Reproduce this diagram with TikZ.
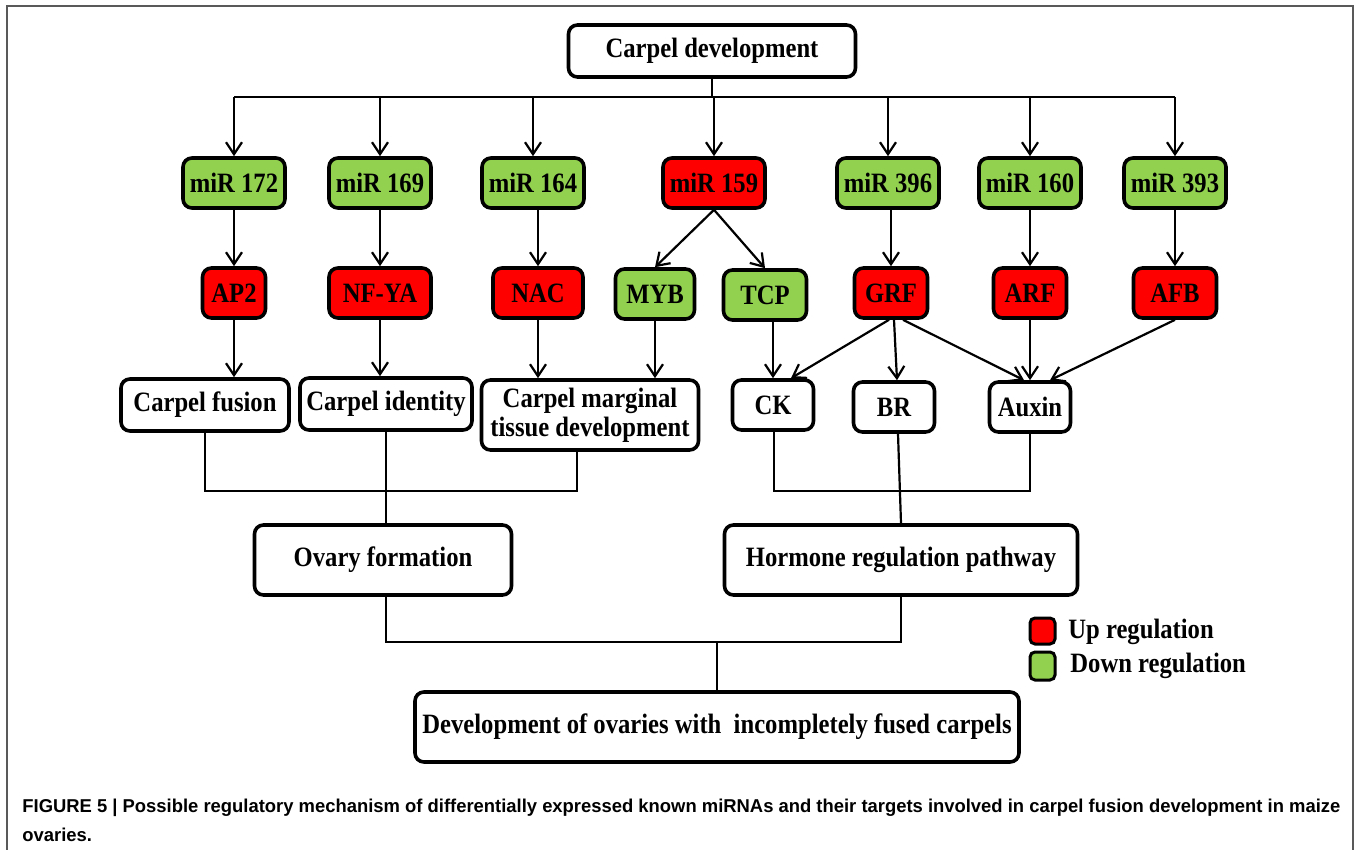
\documentclass[tikz,border=0pt]{standalone}
\usepackage{fontspec}
\setmainfont{Liberation Serif}[FakeStretch=0.88]
\newfontfamily\capfont{Liberation Sans}[FakeStretch=0.99]
\usetikzlibrary{arrows.meta}
\definecolor{upred}{HTML}{FF0000}
\definecolor{downgreen}{HTML}{92D050}
\tikzset{
  box/.style={draw=black, line width=1.8pt, rounded corners=4.5pt, align=center,
    font=\fontsize{14}{14.5}\selectfont\bfseries, inner sep=1pt},
  up/.style={box, fill=upred},
  down/.style={box, fill=downgreen},
  wbox/.style={box, fill=white},
  arr/.style={line width=1.1pt, -{Straight Barb[length=6pt,width=8pt,line width=1.1pt]}},
  ln/.style={line width=1.1pt},
  legtext/.style={anchor=west, font=\fontsize{14}{14.5}\selectfont\bfseries, inner sep=0pt},
  captext/.style={anchor=west, inner sep=0pt, font=\capfont\fontsize{9.3}{10}\selectfont\bfseries}
}
\begin{document}
\begin{tikzpicture}[x=0.5pt,y=-0.5pt]
\useasboundingbox (0,0) rectangle (1360,850);
\draw[gray!70!black, line width=0.8pt] (7,850) -- (7,6) -- (1353,6) -- (1353,850);
% top
\node[wbox, minimum width=143.5pt, minimum height=26pt] (top) at (712,51) {Carpel development};
\coordinate (bus) at (0,97);
% miRNAs
\foreach \n/\x/\t/\s in {m172/234/miR 172/down, m169/380/miR 169/down, m164/533/miR 164/down, m159/714/miR 159/up, m396/888/miR 396/down, m160/1030/miR 160/down, m393/1175/miR 393/down}{
  \node[\s, minimum width=51pt, minimum height=25pt] (\n) at (\x,183) {\t};
}
% targets
\node[up, minimum width=31.5pt, minimum height=25pt] (ap2) at (234,293) {AP2};
\node[up, minimum width=51pt, minimum height=25pt] (nfya) at (380,293) {NF-YA};
\node[up, minimum width=45pt, minimum height=25pt] (nac) at (538,293) {NAC};
\node[down, minimum width=39.5pt, minimum height=25pt] (myb) at (655,294) {MYB};
\node[down, minimum width=41.5pt, minimum height=25pt] (tcp) at (765,295) {TCP};
\node[up, minimum width=36.5pt, minimum height=25pt] (grf) at (891,293) {GRF};
\node[up, minimum width=36.5pt, minimum height=25pt] (arf) at (1030,293) {ARF};
\node[up, minimum width=41.5pt, minimum height=25pt] (afb) at (1175,293) {AFB};
% third row
\node[wbox, minimum width=84pt, minimum height=26pt] (cf) at (205,405) {Carpel fusion};
\node[wbox, minimum width=86pt, minimum height=26pt] (ci) at (386,404) {Carpel identity};
\node[wbox, minimum width=108.5pt, minimum height=35pt] (cm) at (590,415) {Carpel marginal\\tissue development};
\node[wbox, minimum width=40.5pt, minimum height=25pt] (ck) at (773,405) {CK};
\node[wbox, minimum width=40.5pt, minimum height=25pt] (br) at (894,407) {BR};
\node[wbox, minimum width=40.5pt, minimum height=25pt] (aux) at (1030,407) {Auxin};
% fourth row
\node[wbox, minimum width=128.5pt, minimum height=35pt] (ov) at (383,560) {Ovary formation};
\node[wbox, minimum width=176.5pt, minimum height=35pt] (hr) at (901,560) {Hormone regulation pathway};
% final
\node[wbox, minimum width=302pt, minimum height=35pt] (fin) at (717,727) {Development of ovaries with \ incompletely fused carpels};
% top connectors
\draw[ln] (top.south) -- (top.south |- bus);
\draw[ln] (m172.north |- bus) -- (m393.north |- bus);
\foreach \n in {m172,m169,m164,m159,m396,m160,m393}{
  \draw[arr] (\n.north |- bus) -- (\n.north);
}
% miRNA -> targets
\draw[arr] (m172.south) -- (ap2.north);
\draw[arr] (m169.south) -- (nfya.north);
\draw[arr] (nac.north |- m164.south) -- (nac.north);
\draw[arr] (m159.south) -- (myb.north);
\draw[arr] (m159.south) -- (tcp.north);
\draw[arr] (grf.north |- m396.south) -- (grf.north);
\draw[arr] (m160.south) -- (arf.north);
\draw[arr] (m393.south) -- (afb.north);
% targets -> processes
\draw[arr] (ap2.south) -- (ap2.south |- cf.north);
\draw[arr] (nfya.south) -- (nfya.south |- ci.north);
\draw[arr] (nac.south) -- (nac.south |- cm.north);
\draw[arr] (myb.south) -- (myb.south |- cm.north);
\draw[arr] (ck.north |- tcp.south) -- (ck.north);
\draw[arr] ([xshift=-1pt]grf.south) -- ([xshift=9pt]ck.north);
\draw[arr] ([xshift=1.5pt]grf.south) -- ([xshift=1.5pt]br.north);
\draw[arr] ([xshift=6pt]grf.south) -- ([xshift=-3pt]aux.north);
\draw[arr] (arf.south) -- (aux.north);
\draw[arr] (afb.south) -- ([xshift=10pt]aux.north);
% joins
\coordinate (j1) at (0,491);
\draw[ln] (cf.south) -- (cf.south |- j1) -- ([xshift=-6.5pt]cm.south |- j1) -- ([xshift=-6.5pt]cm.south);
\draw[ln] (ci.south) -- (ci.south |- ov.north);
\draw[ln] ([xshift=0.5pt]ck.south) -- ([xshift=0.5pt]ck.south |- j1) -- (aux.south |- j1) -- (aux.south);
\draw[ln] ([xshift=2pt]br.south) -- (hr.north);
\coordinate (j2) at (0,642);
\draw[ln] ([xshift=1.5pt]ov.south) -- ([xshift=1.5pt]ov.south |- j2) -- (hr.south |- j2) -- (hr.south);
\draw[ln] (fin.north |- j2) -- (fin.north);
% legend
\node[draw=black, line width=1.5pt, rounded corners=2.5pt, fill=upred, minimum width=12.5pt, minimum height=13pt, inner sep=0pt] (lu) at (1042.5,631) {};
\node[draw=black, line width=1.5pt, rounded corners=2.5pt, fill=downgreen, minimum width=12.5pt, minimum height=14pt, inner sep=0pt] (ld) at (1042.5,666) {};
\node[legtext] (lut) at (1068,632) {Up regulation};
\node[legtext] (ldt) at (1070,666) {Down regulation};
% caption
\node[captext] (cap1) at (22,808) {FIGURE 5 | Possible regulatory mechanism of differentially expressed known miRNAs and their targets involved in carpel fusion development in maize};
\node[captext] (cap2) at (22,835) {ovaries.};
\end{tikzpicture}
\end{document}
